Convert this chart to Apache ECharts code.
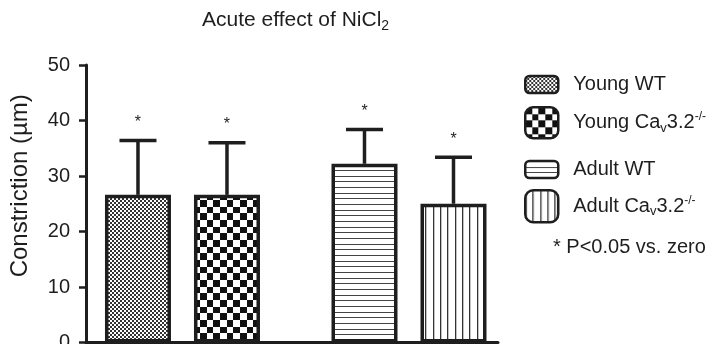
<!DOCTYPE html>
<html>
<head>
<meta charset="utf-8">
<script src="https://cdn.jsdelivr.net/npm/echarts@6/dist/echarts.min.js"></script>
<style>
html,body{margin:0;padding:0;background:#fff;}
#chart{width:714px;height:344px;}
</style>
</head>
<body>
<div id="chart"></div>
<script>
// ---- data ----
const groups = ['Young', 'Adult'];
const seriesNames = ['Young WT', 'Young Cav3.2-/-', 'Adult WT', 'Adult Cav3.2-/-'];
const means = [26.6, 26.6, 32.2, 25.0];
const sds = [9.8, 9.4, 6.2, 8.4];
const significant = [true, true, true, true];
const yTicks = [0, 10, 20, 30, 40, 50];

// ---- layout (not data) ----
const GROUP_STEP = 2.545;          // spacing between the two age groups, in bar units
const PER_GROUP = 2;
function xOf(i) { return Math.floor(i / PER_GROUP) * GROUP_STEP + (i % PER_GROUP); }

const INK = '#1e1e1e';
const FONT = '"Liberation Sans", Arial, Helvetica, sans-serif';

function pattern(kind) {
  const c = document.createElement('canvas');
  let ctx;
  if (kind === 'fine') {
    c.width = 4; c.height = 4; ctx = c.getContext('2d');
    ctx.fillStyle = '#fff'; ctx.fillRect(0, 0, 4, 4);
    ctx.fillStyle = '#333';
    ctx.fillRect(0, 0, 2, 2); ctx.fillRect(2, 2, 2, 2);
  } else if (kind === 'checker') {
    c.width = 40; c.height = 40; ctx = c.getContext('2d');
    ctx.fillStyle = '#fff'; ctx.fillRect(0, 0, 40, 40);
    ctx.fillStyle = '#111';
    for (let i = 0; i < 6; i++) for (let j = 0; j < 6; j++) {
      if ((i + j) % 2 === 0) {
        const x0 = Math.round(i * 20 / 3), x1 = Math.round((i + 1) * 20 / 3);
        const y0 = Math.round(j * 20 / 3), y1 = Math.round((j + 1) * 20 / 3);
        ctx.fillRect(x0, y0, x1 - x0, y1 - y0);
      }
    }
  } else if (kind === 'hlines') {
    c.width = 4; c.height = 17; ctx = c.getContext('2d');
    ctx.fillStyle = '#fff'; ctx.fillRect(0, 0, 4, 17);
    ctx.fillStyle = '#444';
    [0, 6, 11].forEach(y => ctx.fillRect(0, y, 4, 1));
  } else {
    c.width = 22; c.height = 4; ctx = c.getContext('2d');
    ctx.fillStyle = '#fff'; ctx.fillRect(0, 0, 22, 4);
    ctx.fillStyle = '#333';
    [0, 7, 15].forEach(x => ctx.fillRect(x, 0, 1.3, 4));
  }
  return { image: c, repeat: 'repeat' };
}
const fills = [pattern('fine'), pattern('checker'), pattern('hlines'), pattern('vlines')];

const chart = echarts.init(document.getElementById('chart'), null, { renderer: 'canvas' });

const barSeries = seriesNames.map((name, i) => ({
  name: name,
  type: 'bar',
  barWidth: 66,
  barGap: '-100%',
  data: [[xOf(i), means[i]]],
  itemStyle: { color: fills[i], borderColor: INK, borderWidth: 3.5 },
  z: 2
}));

const errSeries = {
  type: 'custom',
  z: 3,
  data: means.map((m, i) => [xOf(i), m, sds[i], significant[i] ? 1 : 0]),
  renderItem: function (params, api) {
    const x = api.value(0), m = api.value(1), s = api.value(2), sig = api.value(3);
    const base = api.coord([x, m]);
    const top = api.coord([x, m + s]);
    const st = { stroke: INK, lineWidth: 3.5 };
    const children = [
      { type: 'line', shape: { x1: base[0], y1: base[1], x2: top[0], y2: top[1] }, style: st },
      { type: 'line', shape: { x1: top[0] - 18.5, y1: top[1], x2: top[0] + 18.5, y2: top[1] }, style: st }
    ];
    if (sig) children.push({ type: 'text', style: { text: '*', x: top[0], y: top[1] - 18, fill: INK, font: '16px ' + FONT, textAlign: 'center', textVerticalAlign: 'middle' } });
    return { type: 'group', children: children };
  }
};

const richLegend = {
  sub: { fontSize: 13, lineHeight: 13, verticalAlign: 'bottom', fontFamily: FONT, color: INK },
  sup: { fontSize: 12, lineHeight: 12, verticalAlign: 'top', fontFamily: FONT, color: INK }
};
function legendLabel(name) {
  return name.replace('Cav3.2-/-', 'Ca{sub|v}3.2{sup|-/-}');
}
const legendLayout = [
  { top: 72.5, h: 17 },
  { top: 106, h: 31 },
  { top: 157.5, h: 17 },
  { top: 189, h: 32 }
];
const legends = seriesNames.map((name, i) => ({
  data: [name],
  left: 524,
  top: legendLayout[i].top,
  padding: 0,
  itemWidth: 33,
  itemHeight: legendLayout[i].h,
  icon: 'roundRect',
  selectedMode: false,
  itemStyle: { borderColor: INK, borderWidth: 2.5 },
  formatter: legendLabel,
  textStyle: { fontSize: 20, lineHeight: 24, fontFamily: FONT, color: INK, padding: [0, 0, 0, 10], rich: richLegend }
}));

chart.setOption({
  animation: false,
  backgroundColor: '#fff',
  title: [
    {
      text: 'Acute effect of NiCl{sub|2}',
      left: 202, top: 7, padding: 0,
      textStyle: { fontSize: 21, lineHeight: 26, fontWeight: 'normal', fontFamily: FONT, color: INK,
        rich: { sub: { fontSize: 14, lineHeight: 14, verticalAlign: 'bottom', fontFamily: FONT, color: INK } } }
    },
    {
      text: '* P<0.05 vs. zero',
      left: 553, top: 237, padding: 0,
      textStyle: { fontSize: 20, fontWeight: 'normal', fontFamily: FONT, color: INK }
    }
  ],
  legend: legends,
  grid: { left: 86, right: 216, top: 65, bottom: 1.5, containLabel: false, outerBoundsMode: 'none' },
  xAxis: {
    type: 'value',
    min: -0.584, max: 4.045,
    axisLine: { show: true, onZero: false, lineStyle: { color: INK, width: 3 } },
    axisTick: { show: false },
    axisLabel: { show: false },
    splitLine: { show: false }
  },
  yAxis: {
    type: 'value',
    min: yTicks[0], max: yTicks[yTicks.length - 1], interval: yTicks[1] - yTicks[0],
    name: 'Constriction (µm)',
    nameLocation: 'middle',
    nameRotate: 90,
    nameGap: 54,
    nameTextStyle: { fontSize: 24, fontFamily: FONT, color: INK, padding: [0, 0, 0, 36] },
    axisLine: { show: true, onZero: false, lineStyle: { color: INK, width: 3 } },
    axisTick: { show: true, length: 7, lineStyle: { color: INK, width: 2.5 } },
    axisLabel: { fontSize: 20, margin: 16, fontFamily: FONT, color: INK },
    splitLine: { show: false }
  },
  series: barSeries.concat([errSeries])
});
</script>
</body>
</html>
